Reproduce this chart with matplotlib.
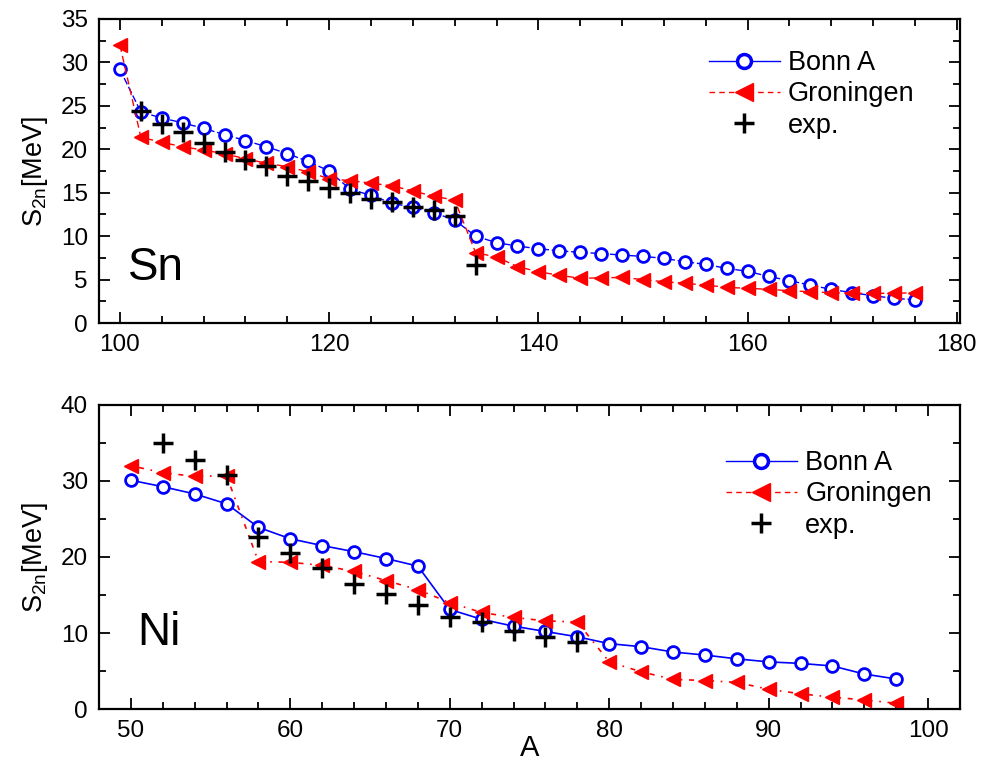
import numpy as np
import matplotlib
matplotlib.use("Agg")
import matplotlib.pyplot as plt
from matplotlib.lines import Line2D
from matplotlib.ticker import MultipleLocator

plt.rcParams['font.family'] = ['Liberation Sans', 'DejaVu Sans']

# Sn isotopes
sn_A = list(range(100, 178, 2))
sn_bonn = [29.2, 24.3, 23.6, 23.05, 22.4, 21.7, 21.0, 20.3, 19.5, 18.6,
           17.5, 15.4, 14.7, 13.8, 13.3, 12.7, 11.85, 10.0, 9.25, 8.86,
           8.55, 8.32, 8.13, 8.0, 7.82, 7.67, 7.45, 7.06, 6.75, 6.29,
           5.95, 5.37, 4.87, 4.37, 3.87, 3.49, 3.14, 2.84, 2.68]
sn_gron = [32.0, 21.4, 20.8, 20.3, 19.9, 19.5, 18.9, 18.4, 18.0, 17.4,
           16.6, 16.4, 16.1, 15.8, 15.2, 14.6, 14.15, 8.1, 7.6, 6.5,
           5.9, 5.5, 5.15, 5.2, 5.25, 5.0, 4.75, 4.57, 4.37, 4.1,
           4.0, 3.88, 3.72, 3.6, 3.49, 3.42, 3.42, 3.42, 3.49]
sn_exp_A = list(range(102, 136, 2))
sn_exp = [24.4, 22.9, 22.0, 20.7, 19.7, 18.8, 18.1, 16.95, 16.3, 15.5,
          15.0, 14.3, 13.96, 13.4, 13.0, 12.3, 6.7]

# Ni isotopes
ni_A = list(range(50, 100, 2))
ni_bonn = [30.1, 29.25, 28.3, 27.0, 23.9, 22.4, 21.5, 20.7, 19.8, 18.8,
           13.1, 11.8, 10.9, 10.2, 9.5, 8.6, 8.2, 7.5, 7.1, 6.6,
           6.2, 6.0, 5.66, 4.6, 3.95]
ni_gron = [32.0, 31.1, 30.6, 30.7, 19.4, 19.3, 18.9, 18.1, 16.9, 15.7,
           14.0, 12.7, 12.05, 11.6, 11.45, 6.2, 4.9, 3.9, 3.75, 3.5,
           2.6, 2.0, 1.55, 1.2, 0.75]
ni_exp_A = list(range(52, 80, 2))
ni_exp = [35.0, 32.8, 30.8, 22.6, 20.5, 18.5, 16.5, 15.1, 13.7, 12.1,
          11.4, 10.2, 9.5, 8.85]

fig = plt.figure(figsize=(9.83, 7.66), dpi=100)
ax1 = fig.add_axes([0.1007, 0.5783, 0.8759, 0.3969])
ax2 = fig.add_axes([0.1007, 0.0744, 0.8759, 0.3969])

blue = '#0000ff'
red = '#ff0000'

ax1.plot(sn_A, sn_bonn, color=blue, lw=1, ls=(0, (5, 2)), marker='o', ms=8.5,
         mfc='white', mec=blue, mew=2)
ax1.plot(sn_A, sn_gron, color=red, lw=1, ls=(0, (5, 3)), marker='<', ms=10,
         mfc=red, mec=red)
ax1.plot(sn_exp_A, sn_exp, ls='none', marker='+', ms=15, mew=2.5, color='black')

ax2.plot(ni_A, ni_bonn, color=blue, lw=1.2, marker='o', ms=8.5,
         mfc='white', mec=blue, mew=2)
ax2.plot(ni_A, ni_gron, color=red, lw=1.2, ls=(0, (1, 4, 3, 4)), marker='<', ms=10,
         mfc=red, mec=red)
ax2.plot(ni_exp_A, ni_exp, ls='none', marker='+', ms=15, mew=2.5, color='black')

handles = [
    Line2D([], [], color=blue, lw=1, marker='o', ms=10, mfc='white', mec=blue, mew=2.5),
    Line2D([], [], color=red, lw=1, ls=(0, (4, 3)), marker='<', ms=13, mfc=red, mec=red),
    Line2D([], [], ls='none', marker='+', ms=14, mew=2.5, color='black'),
]
labels = ['Bonn A', 'Groningen', 'exp.']

leg_kw = dict(loc='upper left', frameon=False, fontsize=19.5, borderaxespad=0,
              borderpad=0, handlelength=2.63, handletextpad=0.3, labelspacing=0.2)
ax1.legend(handles, labels, bbox_to_anchor=(0.708, 0.898), **leg_kw)
ax2.legend(handles, labels, bbox_to_anchor=(0.728, 0.852), **leg_kw)

ax1.set_xlim(98, 180.3)
ax1.set_ylim(0, 35)
ax1.xaxis.set_major_locator(MultipleLocator(20))
ax1.xaxis.set_minor_locator(MultipleLocator(4))
ax1.yaxis.set_major_locator(MultipleLocator(5))
ax1.yaxis.set_minor_locator(MultipleLocator(2.5))

ax2.set_xlim(48, 102)
ax2.set_ylim(0, 40)
ax2.xaxis.set_major_locator(MultipleLocator(10))
ax2.xaxis.set_minor_locator(MultipleLocator(2))
ax2.yaxis.set_major_locator(MultipleLocator(10))
ax2.yaxis.set_minor_locator(MultipleLocator(5))

for ax in (ax1, ax2):
    for s in ax.spines.values():
        s.set_linewidth(1.6)
    ax.tick_params(which='both', direction='in', top=True, right=True,
                   width=1.3, labelsize=17.5)
    ax.tick_params(which='major', length=8, pad=8)
    ax.tick_params(which='minor', length=5)
    ax.set_ylabel(r'S$_{\mathregular{2n}}$[MeV]', fontsize=19.5, labelpad=8)

ax1.text(0.034, 0.141, 'Sn', transform=ax1.transAxes, fontsize=33,
         ha='left', va='baseline')
ax2.text(0.044, 0.21, 'Ni', transform=ax2.transAxes, fontsize=33,
         ha='left', va='baseline')
ax2.set_xlabel('A', fontsize=21, labelpad=-6)

fig.savefig('out.png', dpi=100)
